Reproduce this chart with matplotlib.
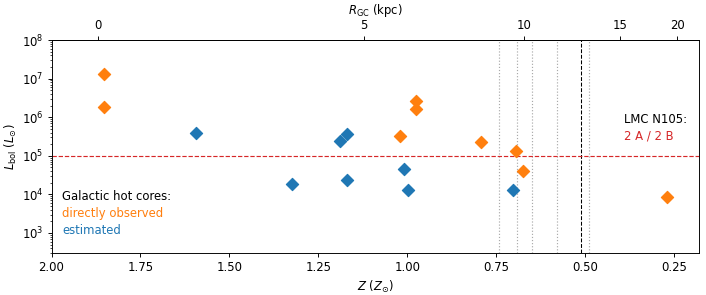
import matplotlib
matplotlib.use("Agg")
import matplotlib.pyplot as plt
import numpy as np

# hot cores, directly observed luminosity
z_obs = [1.852, 1.852, 1.021, 0.975, 0.975, 0.794, 0.694, 0.674, 0.269]
l_obs = [1.29e7, 1.87e6, 3.3e5, 2.6e6, 1.66e6, 2.3e5, 1.3e5, 4.0e4, 8.5e3]

# hot cores, estimated luminosity
z_est = [1.594, 1.324, 1.189, 1.169, 1.170, 1.008, 0.997, 0.702]
l_est = [3.8e5, 1.86e4, 2.4e5, 3.7e5, 2.36e4, 4.6e4, 1.3e4, 1.3e4]

# metallicities of reference systems (vertical lines)
z_lines = [0.741, 0.691, 0.650, 0.580, 0.490]
z_lmc = 0.512
l_lmc = 1e5

r_ticks = [0, 5, 10, 15, 20]


def z2r(z):
    z = np.clip(np.asarray(z, dtype=float), 1e-6, None)
    return (0.272 - np.log10(z)) / 0.0445


def r2z(r):
    return 10 ** (0.272 - 0.0445 * np.asarray(r, dtype=float))


dpi = 84
fig = plt.figure(figsize=(706 / dpi, 295 / dpi), dpi=dpi)
ax = fig.add_axes([0.073, 0.142, 0.917, 0.722])

for zl in z_lines:
    ax.axvline(zl, color="darkgray", ls=":", lw=1, zorder=1)
ax.axvline(z_lmc, color="black", ls="--", lw=0.9, zorder=1)
ax.axhline(l_lmc, color="tab:red", ls="--", lw=1, zorder=1)

ax.scatter(z_obs, l_obs, marker="D", s=55, c="tab:orange", zorder=3)
ax.scatter(z_est, l_est, marker="D", s=55, c="tab:blue", zorder=3)

ax.set_yscale("log")
ax.set_xlim(2.0, 0.18)
ax.set_ylim(3e2, 1e8)
ax.set_xticks([2.0, 1.75, 1.5, 1.25, 1.0, 0.75, 0.5, 0.25])
ax.set_xlabel(r"$Z$ ($Z_{\odot}$)")
ax.set_ylabel(r"$L_{\rm bol}$ ($L_{\odot}$)", labelpad=2)

top = ax.secondary_xaxis("top", functions=(z2r, r2z))
top.set_xticks(r_ticks)
top.set_xlabel(r"$R_{\rm GC}$ (kpc)")

ax.text(0.016, 0.268, "Galactic hot cores:", transform=ax.transAxes, va="center")
ax.text(0.016, 0.188, "directly observed", transform=ax.transAxes, va="center", color="tab:orange")
ax.text(0.016, 0.108, "estimated", transform=ax.transAxes, va="center", color="tab:blue")

ax.text(0.885, 0.628, "LMC N105:", transform=ax.transAxes, va="center")
ax.text(0.885, 0.549, "2 A / 2 B", transform=ax.transAxes, va="center", color="tab:red")

fig.savefig("out.png", dpi=dpi)
